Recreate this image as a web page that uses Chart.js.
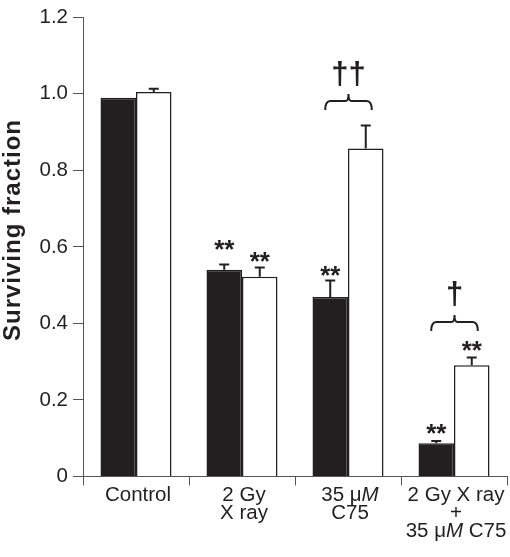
<!DOCTYPE html>
<html>
<head>
<meta charset="utf-8">
<script src="https://cdn.jsdelivr.net/npm/chart.js@4/dist/chart.umd.min.js"></script>
<style>
  html, body { margin: 0; padding: 0; background: #ffffff; }
  #wrap { width: 510px; height: 557px; }
</style>
</head>
<body>
<div id="wrap"><canvas id="c" width="510" height="557"></canvas></div>
<script>
// ---- data ----
const categories = [['Control'], ['2 Gy', 'X ray'], ['35 \u03bcM', 'C75'], ['2 Gy X ray', '+', '35 \u03bcM C75']];
const blackValues = [0.990, 0.540, 0.469, 0.087];
const blackErrors = [0, 0.014, 0.043, 0.006];
const whiteValues = [1.005, 0.522, 0.857, 0.291];
const whiteErrors = [0.008, 0.024, 0.060, 0.020];
const blackStarLevels = [null, 0.611, 0.541, 0.129];
const whiteStarLevels = [null, 0.578, null, 0.345];
const bracketLevels = [null, null, 0.981, 0.404];
const bracketMarks = ['', '', '\u2020\u2020', '\u2020'];
const yTicks = [0, 0.2, 0.4, 0.6, 0.8, 1.0, 1.2];
const yTitle = 'Surviving fraction';

const INK = '#231f20';
const AXIS = '#555555';
const FONT = '"Liberation Sans", Arial, Helvetica, sans-serif';

const annotate = {
  id: 'annotate',
  afterDatasetsDraw(chart) {
    const ctx = chart.ctx;
    const y = chart.scales.y;
    const metaB = chart.getDatasetMeta(0);
    const metaW = chart.getDatasetMeta(1);
    const sets = [[metaB, blackValues, blackErrors, blackStarLevels], [metaW, whiteValues, whiteErrors, whiteStarLevels]];
    ctx.save();
    ctx.strokeStyle = INK;
    ctx.fillStyle = INK;
    // error bars (upper only)
    sets.forEach(([meta, vals, errs, stars]) => {
      meta.data.forEach((el, i) => {
        const e = errs[i];
        if (e > 0) {
          const y0 = y.getPixelForValue(vals[i]);
          const y1 = y.getPixelForValue(vals[i] + e);
          ctx.lineWidth = 2;
          ctx.beginPath();
          ctx.moveTo(el.x, y0);
          ctx.lineTo(el.x, y1);
          ctx.moveTo(el.x - 5, y1);
          ctx.lineTo(el.x + 5, y1);
          ctx.stroke();
        }
        if (stars[i] !== null) {
          ctx.font = 'bold 26px ' + FONT;
          ctx.textAlign = 'center';
          ctx.textBaseline = 'alphabetic';
          ctx.fillText('**', el.x, y.getPixelForValue(stars[i]) + 15);
        }
      });
    });
    // brackets + daggers
    bracketLevels.forEach((lv, i) => {
      if (lv === null) return;
      const x1 = metaB.data[i].x - 5;
      const x2 = metaW.data[i].x + 6;
      const xc = (x1 + x2) / 2;
      const yy = y.getPixelForValue(lv);
      ctx.lineWidth = 2;
      ctx.beginPath();
      ctx.moveTo(x1, yy + 9);
      ctx.quadraticCurveTo(x1, yy, x1 + 5, yy);
      ctx.lineTo(xc - 3, yy);
      ctx.quadraticCurveTo(xc, yy, xc, yy - 7);
      ctx.quadraticCurveTo(xc, yy, xc + 3, yy);
      ctx.lineTo(x2 - 5, yy);
      ctx.quadraticCurveTo(x2, yy, x2, yy + 9);
      ctx.stroke();
      ctx.font = 'bold 31px ' + FONT;
      ctx.textAlign = 'center';
      ctx.textBaseline = 'middle';
      ctx.fillText(bracketMarks[i], xc, yy - 26);
    });
    ctx.restore();
  },
  afterDraw(chart) {
    const ctx = chart.ctx;
    const xs = chart.scales.x;
    ctx.save();
    ctx.fillStyle = INK;
    ctx.textBaseline = 'alphabetic';
    ctx.textAlign = 'left';
    const normal = '20.5px ' + FONT;
    const italic = 'italic 20.5px ' + FONT;
    categories.forEach((lines, i) => {
      const cx = xs.getPixelForValue(i) + 2;
      lines.forEach((line, k) => {
        // split so that the M following mu is italic
        const parts = [];
        const re = /\u03bcM/g;
        let last = 0, m;
        while ((m = re.exec(line)) !== null) {
          parts.push([line.slice(last, m.index + 1), normal]);
          parts.push(['M', italic]);
          last = m.index + 2;
        }
        parts.push([line.slice(last), normal]);
        let total = 0;
        parts.forEach(p => { ctx.font = p[1]; total += ctx.measureText(p[0]).width; });
        let x = cx - total / 2;
        const base = 501 + k * 17.8;
        parts.forEach(p => { ctx.font = p[1]; ctx.fillText(p[0], x, base); x += ctx.measureText(p[0]).width; });
      });
    });
    // y axis title
    ctx.translate(13, 230);
    ctx.rotate(-Math.PI / 2);
    ctx.font = 'bold 24px ' + FONT;
    try { ctx.letterSpacing = '1px'; } catch (e) {}
    ctx.textAlign = 'center';
    ctx.textBaseline = 'middle';
    ctx.fillText(yTitle, 0, 0);
    ctx.restore();
  }
};

new Chart(document.getElementById('c'), {
  type: 'bar',
  data: {
    labels: categories.map(c => c.join(' ')),
    datasets: [
      { data: blackValues, backgroundColor: INK, borderColor: INK, borderWidth: 1.5,
        barPercentage: 1.0, categoryPercentage: 0.67 },
      { data: whiteValues, backgroundColor: '#ffffff', borderColor: INK, borderWidth: 1.5,
        barPercentage: 1.0, categoryPercentage: 0.67 }
    ]
  },
  options: {
    responsive: false,
    devicePixelRatio: 1,
    animation: false,
    layout: { padding: { top: 12, right: 3, left: 0, bottom: 0 } },
    plugins: { legend: { display: false }, tooltip: { enabled: false } },
    scales: {
      x: {
        offset: true,
        grid: { display: true, offset: true, drawOnChartArea: false, drawTicks: true, tickLength: 9, color: AXIS, lineWidth: 1 },
        border: { display: true, color: AXIS, width: 1 },
        ticks: { callback: () => '', padding: 0 },
        afterFit: s => { s.height = 80.5; }
      },
      y: {
        min: 0, max: 1.2,
        afterBuildTicks: s => { s.ticks = yTicks.map(v => ({ value: v })); },
        grid: { display: true, drawOnChartArea: false, drawTicks: true, tickLength: 10, color: AXIS, lineWidth: 1 },
        border: { display: true, color: AXIS, width: 1 },
        ticks: {
          color: INK,
          padding: 5,
          font: { family: FONT, size: 20.5 },
          callback: v => (v === 0 ? '0' : Number(v).toFixed(1))
        },
        afterFit: s => { s.width = 83; }
      }
    }
  },
  plugins: [annotate]
});
</script>
</body>
</html>
